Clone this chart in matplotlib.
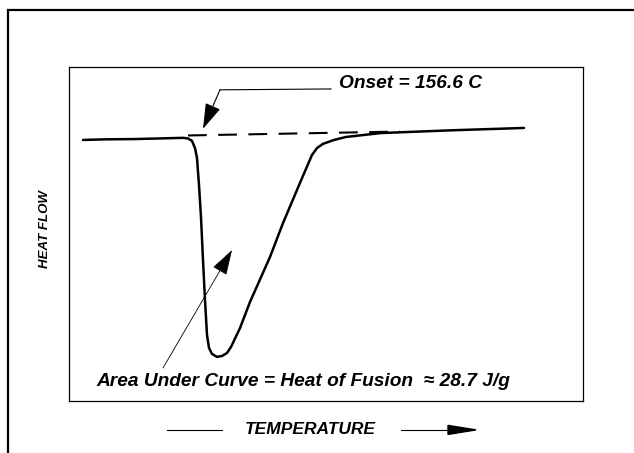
import matplotlib
matplotlib.use('Agg')
import matplotlib.pyplot as plt
from matplotlib.patches import Rectangle

# DSC melting endotherm (schematic values)
temp = [134.8, 139.2, 145.2, 154.8, 155.8, 156.6, 157.2, 157.6, 158.0, 158.4,
        158.8, 159.2, 159.6, 160.0, 160.6, 161.6, 162.6, 163.6, 164.4, 166.2,
        168.2, 172.2, 174.8, 178.2, 180.6, 181.6, 182.8, 185.0, 187.4, 194.4,
        208.2, 223.0]
heat_flow = [0.0, 0.02, 0.03, 0.07, 0.05, -0.03, -0.27, -0.6, -1.5, -2.57,
             -4.0, -5.33, -6.5, -6.93, -7.13, -7.23, -7.2, -7.1, -6.9, -6.27,
             -5.4, -3.9, -2.77, -1.43, -0.5, -0.27, -0.13, 0.0, 0.1, 0.23,
             0.32, 0.4]

# extrapolated baseline for the onset
base_t = [155.8, 198.2]
base_h = [0.15, 0.28]

onset_label = 'Onset = 156.6 C'
area_label = 'Area Under Curve = Heat of Fusion  \u2248 28.7 J/g'

font = dict(family='Liberation Sans', weight='bold', style='italic')

fig = plt.figure(figsize=(6.34, 4.53), dpi=100)
ax = fig.add_axes([0.1088, 0.1148, 0.8108, 0.7372])

ax.plot(temp, heat_flow, color='black', lw=1.8, solid_capstyle='round')
ax.plot(base_t, base_h, color='black', lw=1.5, dashes=(9, 5.5))

ax.set_xlim(132, 234.8)
ax.set_ylim(-8.7, 2.43)
ax.set_xticks([])
ax.set_yticks([])
for s in ax.spines.values():
    s.set_linewidth(0.9)

# onset callout
ax.plot([162.2, 184.4], [1.67, 1.7], color='black', lw=0.8)
ax.annotate('', xy=(158.8, 0.37), xytext=(162.2, 1.67),
            arrowprops=dict(arrowstyle='-|>,head_length=0.8,head_width=0.25',
                            color='black', lw=0.8, mutation_scale=20,
                            shrinkA=0, shrinkB=0))
ax.text(186, 1.73, onset_label, fontsize=13.8, va='baseline', **font)

# area callout
ax.annotate('', xy=(164.6, -3.67), xytext=(150.8, -7.6),
            arrowprops=dict(arrowstyle='-|>,head_length=0.8,head_width=0.25',
                            color='black', lw=0.6, mutation_scale=20,
                            shrinkA=0, shrinkB=0))
ax.text(137.4, -8.2, area_label, fontsize=13.8, va='baseline', **font)

# axis titles
fig.text(0.071, 0.494, 'HEAT FLOW', rotation=90, ha='center', va='center',
         fontsize=9.5, **font)
fig.text(0.49, 0.051, 'TEMPERATURE', ha='center', va='center', fontsize=12.5, **font)
fig.add_artist(plt.Line2D([167 / 634, 222 / 634], [0.051, 0.051], color='black', lw=0.8))
fig.add_artist(plt.Line2D([401 / 634, 452 / 634], [0.051, 0.051], color='black', lw=0.8))
fig.patches.append(matplotlib.patches.FancyArrow(
    448 / 634, 0.051, 28 / 634, 0, width=0.0, head_width=0.02, head_length=28 / 634,
    length_includes_head=True, color='black', transform=fig.transFigure))

# outer frame (cut off on right and bottom)
fig.add_artist(Rectangle((8 / 634, -0.1), 1.2, 1.1 - 10 / 453,
                         transform=fig.transFigure, fill=False,
                         edgecolor='black', lw=1.6, clip_on=False))

fig.savefig('out.png', dpi=100)
